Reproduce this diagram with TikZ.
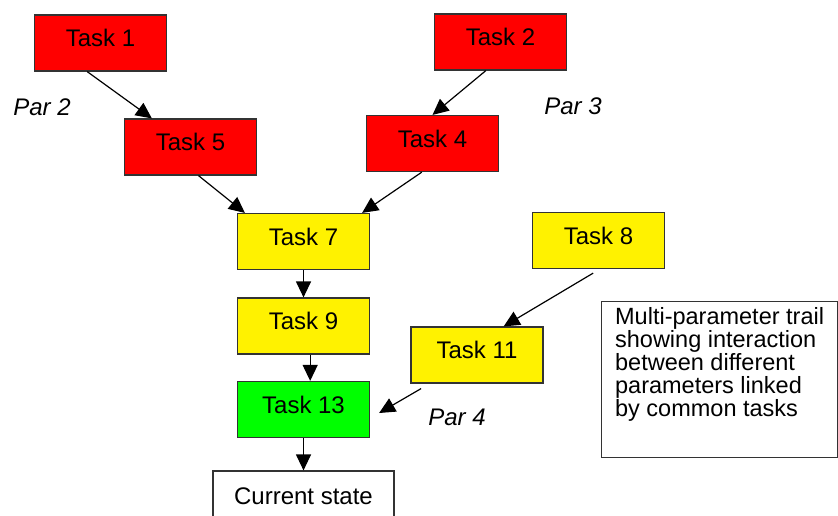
\documentclass[tikz,border=0pt]{standalone}
\usepackage{fontspec}
\setmainfont{Liberation Sans}
\usetikzlibrary{arrows.meta,calc}

\begin{document}
\begin{tikzpicture}[x=0.5pt, y=-0.5pt,
    task/.style={draw=black!80, line width=0.6pt, minimum width=66pt, minimum height=28pt,
      font=\fontsize{12}{14}\selectfont, text height=8.6pt, text depth=5pt},
    red task/.style={task, fill=red},
    yellow task/.style={task, fill=yellow},
    green task/.style={task, fill=green},
    par/.style={font=\fontsize{12}{14}\selectfont\itshape},
    link/.style={-{Triangle[length=8pt,width=7.5pt]}, line width=0.6pt}]
\useasboundingbox (0,0) rectangle (838,515);

%%% tasks %%%
\node (t1) [red task] at (100.5,43) {Task 1};
\node (t2) [red task] at (500.5,42) {Task 2};
\node (t5) [red task] at (190.5,147) {Task 5};
\node (t4) [red task] at (432.5,143.5) {Task 4};
\node (t7) [yellow task] at (303.5,241.5) {Task 7};
\node (t8) [yellow task] at (598.5,240.5) {Task 8};
\node (t9) [yellow task] at (303.5,326) {Task 9};
\node (t11) [yellow task] at (477,355) {Task 11};
\node (t13) [green task] at (303.5,409.5) {Task 13};
\node (cur) [task, minimum width=90.5pt, minimum height=25pt, text depth=0pt] at (303.5,496) {Current state};

%%% parameters %%%
\node (par2) [par] at (42,107) {Par 2};
\node (par3) [par] at (573,106) {Par 3};
\node (par4) [par] at (457,417) {Par 4};

%% note
\node (note) [draw=black!80, line width=0.6pt, anchor=north west, align=left,
  minimum width=118pt, inner ysep=0pt, text height=57.25pt, text depth=20.75pt,
  font=\fontsize{11.75}{11.5}\selectfont] at (601,301)
  {Multi-parameter trail\\ showing interaction\\ between different\\ parameters linked\\ by common tasks};

%%% links %%%
\draw[link] ($(t1.south west)!0.4!(t1.south east)$) -- ($(t5.north west)!0.21!(t5.north east)$);
\draw[link] ($(t2.south west)!0.39!(t2.south east)$) -- (t4.north);
\draw[link] ($(t5.south west)!0.56!(t5.south east)$) -- ($(t7.north west)!0.06!(t7.north east)$);
\draw[link] ($(t4.south west)!0.42!(t4.south east)$) -- ($(t7.north west)!0.94!(t7.north east)$);
\draw[link] (t7) -- (t9);
\draw[link] ($(t9.south west)!0.55!(t9.south east)$) -- ($(t13.north west)!0.55!(t13.north east)$);
\draw[link] ($(t8.south west)!0.46!(t8.south east)+(0,4)$) -- ($(t11.north west)!0.7!(t11.north east)$);
\draw[link] ($(t11.south west)!0.08!(t11.south east)+(0,5)$) -- ([xshift=4.5pt,yshift=-1.75pt]t13.east);
\draw[link] (t13) -- (cur);

\end{tikzpicture}
\end{document}
